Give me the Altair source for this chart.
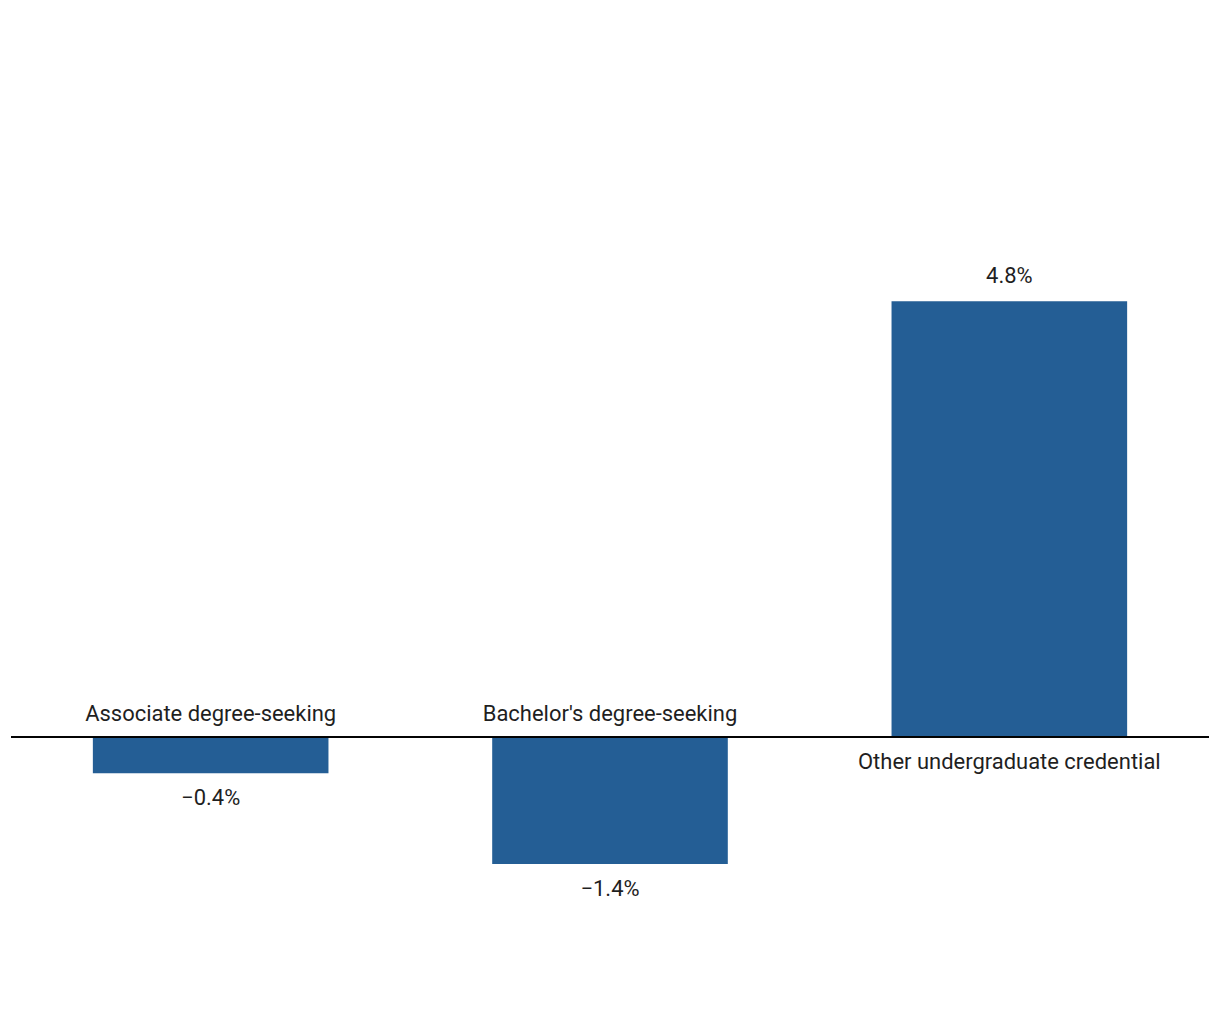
import altair as alt
import pandas as pd

categories = ["Associate degree-seeking", "Bachelor's degree-seeking", "Other undergraduate credential"]
values = [-0.4, -1.4, 4.8]

df = pd.DataFrame({"category": categories, "value": values})

FONT = "Roboto"
BAR = "#245e95"
TXT = "#1f1f1f"
FS = 22

yscale = alt.Scale(domain=[-3, 8], nice=False, zero=True)
x = alt.X("category:N", sort=categories, axis=None,
          scale=alt.Scale(paddingInner=0.41, paddingOuter=0.205))
y = alt.Y("value:Q", axis=None, scale=yscale)
yz = alt.Y("zero:Q", axis=None, scale=yscale)

base = alt.Chart(df).encode(x=x, y=y)

bars = base.mark_bar(color=BAR)

zero = alt.Chart(df).transform_calculate(zero="0").mark_rule(
    color="black", strokeWidth=1.5
).encode(x=alt.value(0), x2=alt.value(1200), y=yz)

vals = base.transform_calculate(
    lab="format(datum.value, '.1f') + '%'"
)

val_pos = vals.transform_filter("datum.value >= 0").mark_text(
    font=FONT, fontSize=FS, color=TXT, baseline="middle", dy=-25
).encode(text="lab:N")
val_neg = vals.transform_filter("datum.value < 0").mark_text(
    font=FONT, fontSize=FS, color=TXT, baseline="middle", dy=25
).encode(text="lab:N")

cat_zero = alt.Chart(df).transform_calculate(zero="0").encode(x=x, y=yz)
cat_pos = cat_zero.transform_filter("datum.value >= 0").mark_text(
    font=FONT, fontSize=FS, color=TXT, baseline="middle", dy=25
).encode(text="category:N")
cat_neg = cat_zero.transform_filter("datum.value < 0").mark_text(
    font=FONT, fontSize=FS, color=TXT, baseline="middle", dy=-23
).encode(text="category:N")

chart = alt.layer(bars, zero, val_pos, val_neg, cat_pos, cat_neg).properties(
    width=1200, height=1000, padding=2
).configure_view(stroke=None)

chart.save("out.html", embed_options={"renderer": "svg", "actions": False})
